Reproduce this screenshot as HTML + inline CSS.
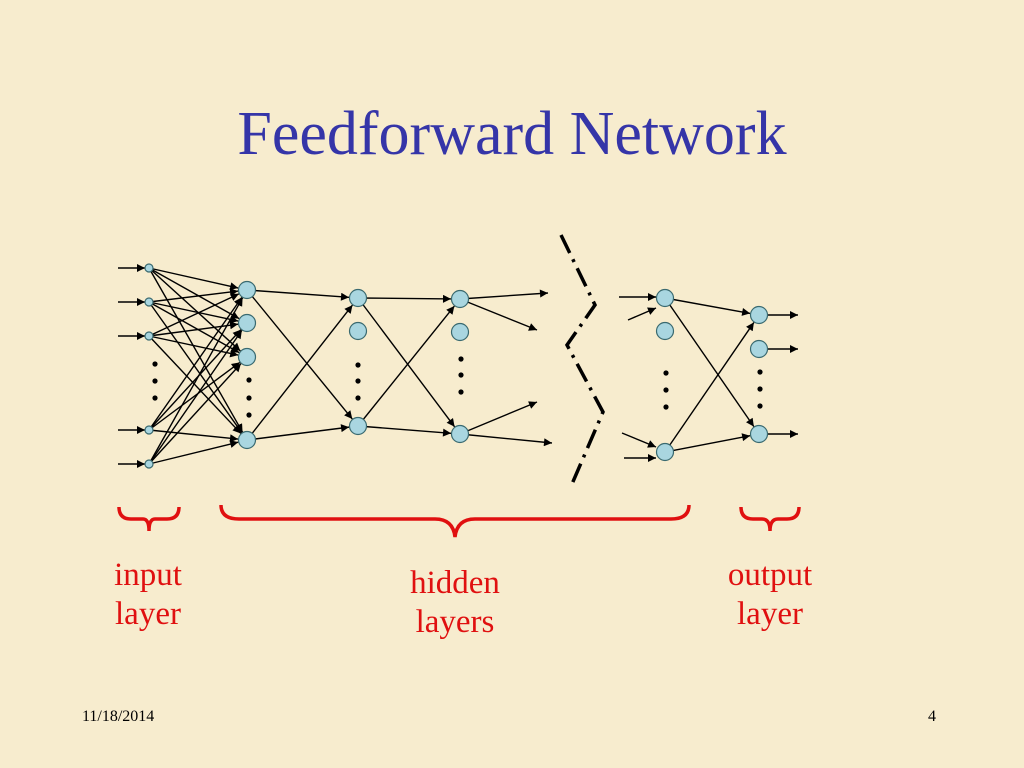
<!DOCTYPE html>
<html><head><meta charset="utf-8"><style>
html,body{margin:0;padding:0}
body{width:1024px;height:768px;background:#f7ecce;position:relative;overflow:hidden;font-family:"Liberation Serif",serif}
.t{position:absolute;left:0;width:1024px;text-align:center;top:96px;font-size:62px;color:#3535a8;line-height:76px}
.r{position:absolute;color:#e01010;font-size:33px;text-align:center;line-height:39px}
.f{position:absolute;font-size:16px;color:#000}
</style></head><body>
<svg width="1024" height="768" style="position:absolute;left:0;top:0">
<defs><marker id="a" viewBox="0 0 10 10" refX="10" refY="5" markerWidth="10" markerHeight="8" markerUnits="userSpaceOnUse" orient="auto"><path d="M0,0L10,5L0,10z" fill="#000"/></marker></defs>
<g id="L" stroke="#000" stroke-width="1.4" fill="none"></g>
<g id="C" stroke="#3a6a70" stroke-width="1.2" fill="#a9d6e0"></g>
<g id="D" fill="#000"></g>
<g stroke="#000" stroke-width="3.5" fill="none" stroke-dasharray="20,7,3,7">
<polyline points="561,235 595,305 567,345 603,412 572,484"/>
</g>
<g stroke="#e01010" stroke-width="3.5" fill="none">
<path d="M119,507 q0,12 12,12 h12 q6,0 6,12 q0,-12 6,-12 h12 q12,0 12,-12"/>
<path d="M221,505 q0,14 18,14 h196 q18,0 20,18 q2,-18 20,-18 h196 q18,0 18,-14"/>
<path d="M741,507 q0,12 12,12 h9 q8,0 8,12 q0,-12 8,-12 h9 q12,0 12,-12"/>
</g>
</svg>
<div class="t">Feedforward Network</div>
<div class="r" style="left:98px;top:556px;width:100px">input<br>layer</div>
<div class="r" style="left:390px;top:564px;width:130px">hidden<br>layers</div>
<div class="r" style="left:710px;top:556px;width:120px">output<br>layer</div>
<div class="f" style="left:82px;top:708px">11/18/2014</div>
<div class="f" style="left:928px;top:708px">4</div>
<script>
var NS="http://www.w3.org/2000/svg",L=document.getElementById('L'),C=document.getElementById('C'),D=document.getElementById('D');
function ln(x1,y1,x2,y2,r2,ar){var dx=x2-x1,dy=y2-y1,d=Math.hypot(dx,dy);var e=document.createElementNS(NS,'line');
e.setAttribute('x1',x1);e.setAttribute('y1',y1);e.setAttribute('x2',x2-dx/d*r2);e.setAttribute('y2',y2-dy/d*r2);if(ar!==false)e.setAttribute('marker-end','url(#a)');L.appendChild(e);}
function c(x,y,r){var e=document.createElementNS(NS,'circle');e.setAttribute('cx',x);e.setAttribute('cy',y);e.setAttribute('r',r);C.appendChild(e);}
function dots(x,ys){ys.forEach(function(y){var e=document.createElementNS(NS,'circle');e.setAttribute('cx',x);e.setAttribute('cy',y);e.setAttribute('r',2.6);D.appendChild(e);});}
var inp=[268,302,336,430,464],h1=[290,323,357,440];
inp.forEach(function(y){ln(118,y,149,y,4);});
inp.forEach(function(y){h1.forEach(function(z){ln(149,y,247,z,9);});});
[[290,298],[290,426],[440,298],[440,426]].forEach(function(p){ln(247,p[0],358,p[1],9);});
[[298,299],[298,434],[426,299],[426,434]].forEach(function(p){ln(358,p[0],460,p[1],9);});
ln(460,299,548,293,0);ln(460,299,537,330,0);ln(460,434,537,402,0);ln(460,434,552,443,0);
ln(619,297,656,297,0);ln(628,320,656,308,0);ln(622,433,656,447,0);ln(624,458,656,458,0);
[[298,315],[298,434],[452,315],[452,434]].forEach(function(p){ln(665,p[0],759,p[1],9);});
[315,349,434].forEach(function(y){ln(759,y,798,y,0);});
inp.forEach(function(y){c(149,y,4);});
h1.forEach(function(y){c(247,y,8.5);});
[298,331,426].forEach(function(y){c(358,y,8.5);});
[299,332,434].forEach(function(y){c(460,y,8.5);});
[298,331,452].forEach(function(y){c(665,y,8.5);});
[315,349,434].forEach(function(y){c(759,y,8.5);});
dots(155,[364,381,398]);dots(249,[380,398,415]);dots(358,[365,381,398]);dots(461,[359,375,392]);dots(666,[373,390,407]);dots(760,[372,389,406]);
</script>
</body></html>
